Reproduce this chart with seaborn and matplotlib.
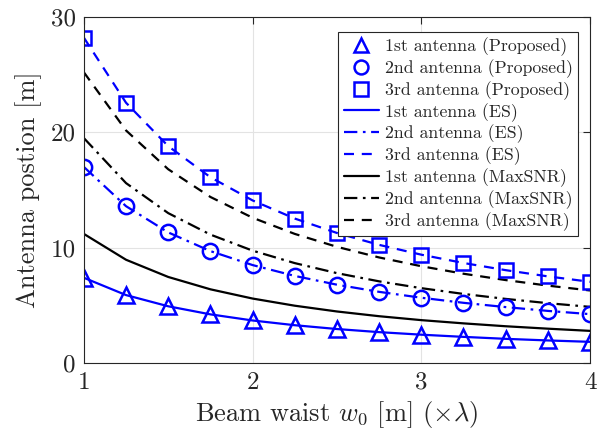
import matplotlib
matplotlib.use("Agg")
import matplotlib.pyplot as plt
import seaborn as sns
import numpy as np
import pandas as pd

w0 = [1.0, 1.25, 1.5, 1.75, 2.0, 2.25, 2.5, 2.75, 3.0, 3.25, 3.5, 3.75, 4.0]

ant1_prop = [7.4, 5.9, 4.93, 4.23, 3.7, 3.29, 2.96, 2.69, 2.47, 2.28, 2.11, 1.97, 1.85]
ant2_prop = [17.0, 13.6, 11.33, 9.71, 8.5, 7.56, 6.8, 6.18, 5.67, 5.23, 4.86, 4.53, 4.25]
ant3_prop = [28.2, 22.56, 18.8, 16.11, 14.1, 12.53, 11.28, 10.25, 9.4, 8.68, 8.06, 7.52, 7.05]

ant1_es = [7.4, 5.9, 4.93, 4.23, 3.7, 3.29, 2.96, 2.69, 2.47, 2.28, 2.11, 1.97, 1.85]
ant2_es = [17.0, 13.6, 11.33, 9.71, 8.5, 7.56, 6.8, 6.18, 5.67, 5.23, 4.86, 4.53, 4.25]
ant3_es = [28.2, 22.56, 18.8, 16.11, 14.1, 12.53, 11.28, 10.25, 9.4, 8.68, 8.06, 7.52, 7.05]

ant1_max = [11.2, 8.96, 7.47, 6.4, 5.6, 4.98, 4.48, 4.07, 3.73, 3.45, 3.2, 2.99, 2.8]
ant2_max = [19.5, 15.6, 13.0, 11.14, 9.75, 8.67, 7.8, 7.09, 6.5, 6.0, 5.57, 5.2, 4.88]
ant3_max = [25.2, 20.16, 16.8, 14.4, 12.6, 11.2, 10.08, 9.16, 8.4, 7.75, 7.2, 6.72, 6.3]

labels_prop = ["1st antenna (Proposed)", "2nd antenna (Proposed)", "3rd antenna (Proposed)"]
labels_es = ["1st antenna (ES)", "2nd antenna (ES)", "3rd antenna (ES)"]
labels_max = ["1st antenna (MaxSNR)", "2nd antenna (MaxSNR)", "3rd antenna (MaxSNR)"]

xticks = [1, 2, 3, 4]
yticks = [0, 10, 20, 30]

sns.set_theme(style="white")
plt.rcParams['font.family'] = ['cmr10', 'DejaVu Serif']
plt.rcParams['mathtext.fontset'] = 'cm'
plt.rcParams['axes.formatter.use_mathtext'] = True

fig = plt.figure(figsize=(5.99, 4.44), dpi=100)
ax = fig.add_axes([0.140, 0.182, 0.845, 0.780])

blue = '#0000FF'
black = '#000000'
styles = ['-', (0, (6, 2.5, 1.2, 2.5)), (0, (4.5, 3.5))]
markers = ['^', 'o', 's']
msizes = [12, 11, 10]

handles = {}
# MaxSNR lines
for ys, lab, ls in zip([ant1_max, ant2_max, ant3_max], labels_max, styles):
    sns.lineplot(x=w0, y=ys, ax=ax, color=black, linestyle=ls, linewidth=1.6, label=lab)
    handles[lab] = ax.lines[-1]
# ES lines
for ys, lab, ls in zip([ant1_es, ant2_es, ant3_es], labels_es, styles):
    sns.lineplot(x=w0, y=ys, ax=ax, color=blue, linestyle=ls, linewidth=1.6, label=lab)
    handles[lab] = ax.lines[-1]
# Proposed markers
for ys, lab, mk, ms in zip([ant1_prop, ant2_prop, ant3_prop], labels_prop, markers, msizes):
    sns.lineplot(x=w0, y=ys, ax=ax, color=blue, linestyle='', marker=mk, markersize=ms,
                 markerfacecolor='none', markeredgecolor=blue, markeredgewidth=1.8, label=lab)
    handles[lab] = ax.lines[-1]

ax.set_xlim(1, 4)
ax.set_ylim(0, 30)
ax.set_xticks(xticks)
ax.set_yticks(yticks)
ax.set_xticklabels([str(t) for t in xticks])
ax.set_yticklabels([str(t) for t in yticks])
ax.tick_params(direction='in', length=5, width=0.8, top=True, right=True, labelsize=18,
               colors='#262626', pad=6)
ax.grid(True, color='#e3e3e3', linewidth=0.8)
for sp in ax.spines.values():
    sp.set_color('#262626')
    sp.set_linewidth(0.8)

ax.set_xlabel(r'Beam waist $w_0$ [m] ($\times\lambda$)', fontsize=19, color='#262626', labelpad=4)
ax.set_ylabel('Antenna postion [m]', fontsize=19, color='#262626', labelpad=6)

order = labels_prop + labels_es + labels_max
leg = ax.legend([handles[l] for l in order], order, loc='upper right',
                bbox_to_anchor=(0.976, 0.957), borderaxespad=0, fontsize=12.8,
                frameon=True, fancybox=False, edgecolor='#262626', framealpha=1,
                handlelength=2.0, handletextpad=0.3, labelspacing=0.18,
                borderpad=0.3)
leg.get_frame().set_linewidth(0.8)
for t in leg.get_texts():
    t.set_color('#262626')
for h in leg.legend_handles:
    if h.get_marker() not in (None, '', 'None'):
        h.set_markersize(10)

fig.savefig('out.png', dpi=100)
